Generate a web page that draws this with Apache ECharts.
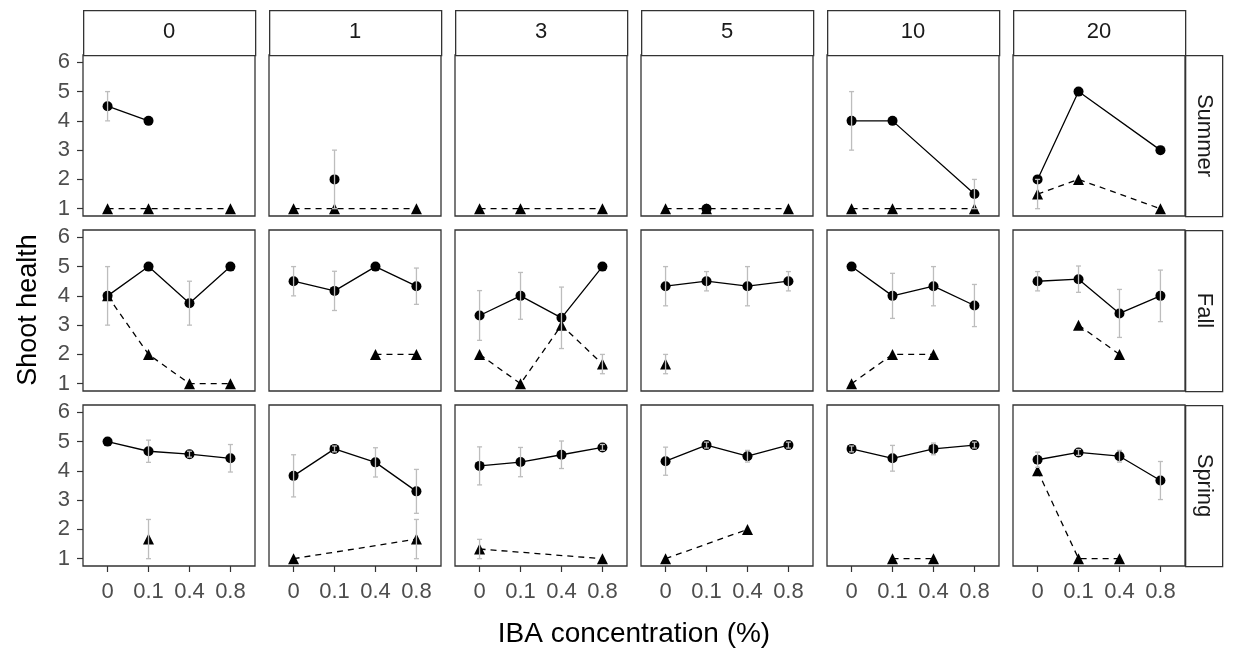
<!DOCTYPE html>
<html>
<head>
<meta charset="utf-8">
<script src="https://cdn.jsdelivr.net/npm/echarts@6/dist/echarts.min.js"></script>
<style>
    html, body { margin: 0; padding: 0; background: #fff; }
    #main { width: 1233px; height: 658px; }
</style>
</head>
<body>
<div id="main"></div>
<script>
// facet labels
const seasons = ['Summer', 'Fall', 'Spring']
const doses = ['0', '1', '3', '5', '10', '20']
const concs = ['0', '0.1', '0.4', '0.8']
const yTicks = [1, 2, 3, 4, 5, 6]

// one row of 4 values (conc 0, 0.1, 0.4, 0.8) per dose panel; null = no point
const summerCircle = [[4.5, 4, null, null], [null, 2, null, null], [null, null, null, null], [null, 1, null, null], [4, 4, null, 1.5], [2, 5, null, 3]]
const summerCircleSe = [[0.5, 0, 0, 0], [0, 1, 0, 0], [0, 0, 0, 0], [0, 0, 0, 0], [1, 0, 0, 0.5], [0, 0, 0, 0]]
const summerTri = [[1, 1, null, 1], [1, 1, null, 1], [1, 1, null, 1], [1, 1, null, 1], [1, 1, null, 1], [1.5, 2, null, 1]]
const summerTriSe = [[0, 0, 0, 0], [0, 0, 0, 0], [0, 0, 0, 0], [0, 0, 0, 0], [0, 0, 0, 0], [0.5, 0, 0, 0]]

const fallCircle = [[4, 5, 3.75, 5], [4.5, 4.17, 5, 4.33], [3.33, 4, 3.25, 5], [4.33, 4.5, 4.33, 4.5], [5, 4, 4.33, 3.67], [4.5, 4.57, 3.4, 4]]
const fallCircleSe = [[1, 0, 0.75, 0], [0.5, 0.67, 0, 0.62], [0.85, 0.8, 1.05, 0], [0.67, 0.33, 0.67, 0.33], [0, 0.77, 0.67, 0.72], [0.33, 0.45, 0.82, 0.88]]
const fallTri = [[4, 2, 1, 1], [null, null, 2, 2], [2, 1, 3, 1.67], [1.67, null, null, null], [1, 2, 2, null], [null, 3, 2, null]]
const fallTriSe = [[0, 0, 0, 0], [0, 0, 0, 0], [0, 0, 0, 0.33], [0.33, 0, 0, 0], [0, 0, 0, 0], [0, 0, 0, 0]]

const springCircle = [[5, 4.67, 4.57, 4.43], [3.83, 4.75, 4.29, 3.3], [4.17, 4.3, 4.55, 4.8], [4.33, 4.88, 4.5, 4.88], [4.75, 4.43, 4.75, 4.88], [4.38, 4.63, 4.5, 3.67]]
const springCircleSe = [[0, 0.38, 0.1, 0.47], [0.72, 0.1, 0.5, 0.75], [0.65, 0.5, 0.47, 0.1], [0.48, 0.1, 0.2, 0.1], [0.1, 0.44, 0.2, 0.1], [0.26, 0.1, 0.2, 0.65]]
const springTri = [[null, 1.67, null, null], [1, null, null, 1.67], [1.33, null, null, 1], [1, null, 2, null], [null, 1, 1, null], [4, 1, 1, null]]
const springTriSe = [[0, 0.67, 0, 0], [0, 0, 0, 0.67], [0.33, 0, 0, 0], [0, 0, 0, 0], [0, 0, 0, 0], [0, 0, 0, 0]]

const circleRows = [summerCircle, fallCircle, springCircle]
const circleSeRows = [summerCircleSe, fallCircleSe, springCircleSe]
const triRows = [summerTri, fallTri, springTri]
const triSeRows = [summerTriSe, fallTriSe, springTriSe]

const FONT = '"Liberation Sans", Arial, sans-serif'
const panelLeft = 83, panelTop = 55, panelW = 172, panelH = 161, stepX = 186, stepY = 175

const myChart = echarts.init(document.getElementById('main'))

const grids = [], xAxes = [], yAxes = [], series = [], graphics = []

function points(vals) {
    const out = []
    vals.forEach((v, i) => { if (v !== null) out.push([i, v]) })
    return out
}
function bars(vals, se) {
    const out = []
    vals.forEach((v, i) => { if (v !== null && se[i] > 0) out.push([i, v - se[i], v + se[i]]) })
    return out
}

function errorBar(params, api) {
    const lo = api.coord([api.value(0), api.value(1)])
    const hi = api.coord([api.value(0), api.value(2)])
    const style = { stroke: '#bdbdbd', lineWidth: 1.3 }
    const cap = 2.5
    return {
        type: 'group',
        children: [
            { type: 'line', shape: { x1: lo[0], y1: lo[1], x2: hi[0], y2: hi[1] }, style },
            { type: 'line', shape: { x1: lo[0] - cap, y1: lo[1], x2: lo[0] + cap, y2: lo[1] }, style },
            { type: 'line', shape: { x1: hi[0] - cap, y1: hi[1], x2: hi[0] + cap, y2: hi[1] }, style }
        ]
    }
}

seasons.forEach((season, r) => {
    doses.forEach((dose, c) => {
        const idx = grids.length
        grids.push({
            left: panelLeft + c * stepX, top: panelTop + r * stepY,
            width: panelW, height: panelH,
            show: true, borderColor: '#333', borderWidth: 1.3, backgroundColor: '#fff'
        })
        xAxes.push({
            type: 'value', gridIndex: idx, min: -0.6, max: 3.6,
            axisLine: { show: false, onZero: false },
            splitLine: { show: false },
            axisTick: { show: r === 2, customValues: [0, 1, 2, 3], length: 6, lineStyle: { color: '#333', width: 1.2 } },
            axisLabel: {
                show: r === 2, customValues: [0, 1, 2, 3], margin: 15,
                formatter: v => concs[Math.round(v)],
                color: '#4d4d4d', fontSize: 22, fontFamily: FONT
            }
        })
        yAxes.push({
            type: 'value', gridIndex: idx, min: 0.75, max: 6.25,
            axisLine: { show: false, onZero: false },
            splitLine: { show: false },
            axisTick: { show: c === 0, customValues: yTicks, length: 6, lineStyle: { color: '#333', width: 1.2 } },
            axisLabel: {
                show: c === 0, customValues: yTicks, margin: 13,
                color: '#4d4d4d', fontSize: 22, fontFamily: FONT
            }
        })
        series.push({
            type: 'line', xAxisIndex: idx, yAxisIndex: idx,
            data: points(triRows[r][c]),
            symbol: 'triangle', symbolSize: 11,
            itemStyle: { color: '#000' },
            lineStyle: { color: '#000', width: 1.3, type: [6, 5] },
            z: 3, animation: false
        })
        series.push({
            type: 'line', xAxisIndex: idx, yAxisIndex: idx,
            data: points(circleRows[r][c]),
            symbol: 'circle', symbolSize: 10,
            itemStyle: { color: '#000' },
            lineStyle: { color: '#000', width: 1.3 },
            z: 4, animation: false
        })
        series.push({
            type: 'custom', xAxisIndex: idx, yAxisIndex: idx,
            data: bars(circleRows[r][c], circleSeRows[r][c]).concat(bars(triRows[r][c], triSeRows[r][c])),
            encode: { x: 0, y: [1, 2] },
            renderItem: errorBar,
            z: 5, animation: false, silent: true
        })
    })
})

// column strips
doses.forEach((dose, c) => {
    graphics.push({
        type: 'rect', left: panelLeft + c * stepX, top: 10,
        shape: { width: panelW, height: 45 },
        style: { fill: '#fff', stroke: '#333', lineWidth: 1.3 }
    })
    graphics.push({
        type: 'text', x: panelLeft + c * stepX + panelW / 2, y: 32,
        style: { text: dose, fill: '#1a1a1a', fontSize: 22, fontFamily: FONT, align: 'center', verticalAlign: 'middle' }
    })
})
// row strips
seasons.forEach((season, r) => {
    const top = panelTop + r * stepY
    graphics.push({
        type: 'rect', left: panelLeft + 5 * stepX + panelW, top: top,
        shape: { width: 37, height: panelH },
        style: { fill: '#fff', stroke: '#333', lineWidth: 1.3 }
    })
    graphics.push({
        type: 'text', x: panelLeft + 5 * stepX + panelW + 19, y: top + panelH / 2,
        rotation: -Math.PI / 2,
        style: { text: season, fill: '#1a1a1a', fontSize: 22, fontFamily: FONT, align: 'center', verticalAlign: 'middle' }
    })
})
// axis titles
graphics.push({
    type: 'text', x: 29, y: 310, rotation: Math.PI / 2,
    style: { text: 'Shoot health', fill: '#000', fontSize: 27, fontFamily: FONT, align: 'center', verticalAlign: 'middle' }
})
graphics.push({
    type: 'text', x: 634, y: 634,
    style: { text: 'IBA concentration (%)', fill: '#000', fontSize: 28, fontFamily: FONT, align: 'center', verticalAlign: 'middle' }
})

let option = {
    animation: false,
    grid: grids,
    xAxis: xAxes,
    yAxis: yAxes,
    series,
    graphic: graphics
}
myChart.setOption(option)
window.addEventListener('resize', function () {
    myChart.resize()
})
</script>
</body>
</html>
